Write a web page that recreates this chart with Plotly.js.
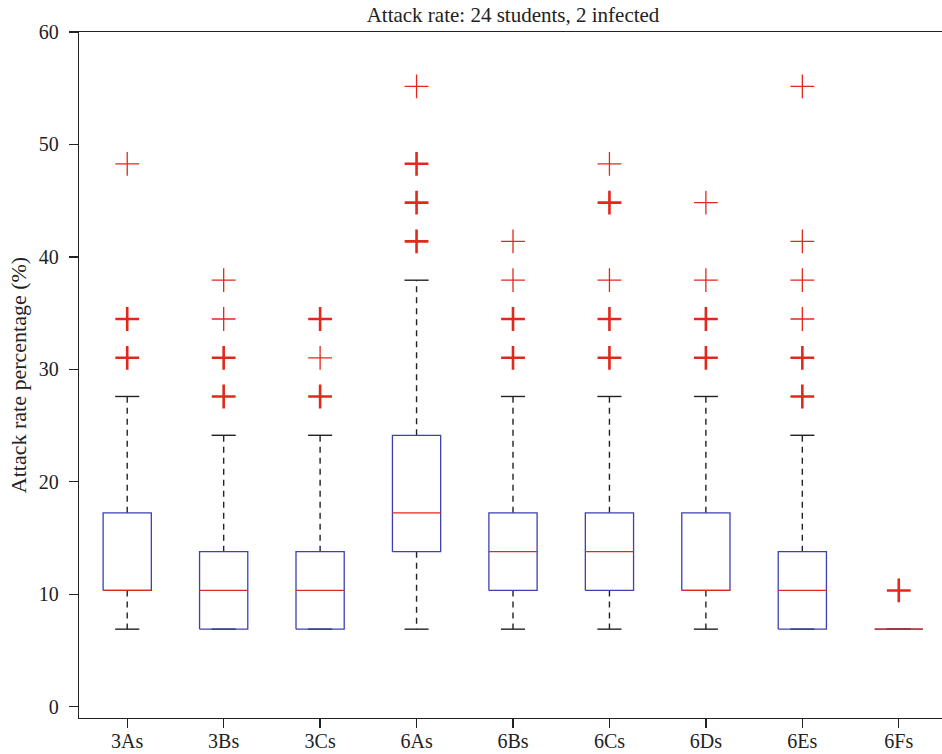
<!DOCTYPE html>
<html>
<head>
<meta charset="utf-8">
<script src="https://cdn.plot.ly/plotly-3.0.1.min.js"></script>
<style>
html,body{margin:0;padding:0;overflow:hidden;background:#fff;}
#chart{width:960px;height:754px;}
</style>
</head>
<body>
<div id="chart"></div>
<script>
// ---- data ----
const categories = ["3As","3Bs","3Cs","6As","6Bs","6Cs","6Ds","6Es","6Fs"];
const lowerWhisker = [6.90, 6.90, 6.90, 6.90, 6.90, 6.90, 6.90, 6.90, 6.90];
const q1Values     = [10.34, 6.90, 6.90, 13.79, 10.34, 10.34, 10.34, 6.90, 6.90];
const medianValues = [10.34, 10.34, 10.34, 17.24, 13.79, 13.79, 10.34, 10.34, 6.90];
const q3Values     = [17.24, 13.79, 13.79, 24.14, 17.24, 17.24, 17.24, 13.79, 6.90];
const upperWhisker = [27.59, 24.14, 24.14, 37.93, 27.59, 27.59, 27.59, 24.14, 6.90];
// outliers: group index, value, overlap count
const outlierGroup = [0,0,0, 1,1,1,1, 2,2,2, 3,3,3,3, 4,4,4,4, 5,5,5,5,5, 6,6,6,6, 7,7,7,7,7,7, 8];
const outlierValue = [31.03,34.48,48.28, 27.59,31.03,34.48,37.93, 27.59,31.03,34.48, 41.38,44.83,48.28,55.17,
                      31.03,34.48,37.93,41.38, 31.03,34.48,37.93,44.83,48.28, 31.03,34.48,37.93,44.83,
                      27.59,31.03,34.48,37.93,41.38,55.17, 10.34];
const outlierCount = [2,2,1, 2,2,1,1, 2,1,2, 2,2,2,1, 2,2,1,1, 2,2,1,2,1, 2,2,1,1, 2,2,1,1,1,1, 2];
const yTicks = [0,10,20,30,40,50,60];

// ---- build traces ----
const pos = categories.map((c,i)=>i+1);
const bw = 0.25, cw = 0.125;
const boxX=[], boxY=[], wX=[], wY=[], capX=[], capY=[], medX=[], medY=[];
pos.forEach((p,i)=>{
  boxX.push(p-bw,p+bw,p+bw,p-bw,p-bw,null);
  boxY.push(q1Values[i],q1Values[i],q3Values[i],q3Values[i],q1Values[i],null);
  wX.push(p,p,null,p,p,null);
  wY.push(q3Values[i],upperWhisker[i],null,q1Values[i],lowerWhisker[i],null);
  capX.push(p-cw,p+cw,null,p-cw,p+cw,null);
  capY.push(upperWhisker[i],upperWhisker[i],null,lowerWhisker[i],lowerWhisker[i],null);
  medX.push(p-bw,p+bw,null);
  medY.push(medianValues[i],medianValues[i],null);
});
const thinX=[],thinY=[],boldX=[],boldY=[];
outlierValue.forEach((v,j)=>{
  const x = pos[outlierGroup[j]];
  if(outlierCount[j]>1){boldX.push(x);boldY.push(v);} else {thinX.push(x);thinY.push(v);}
});

const red = 'rgb(226,40,28)';
const traces = [
  {x:wX,y:wY,mode:'lines',line:{color:'#222',width:1.4,dash:'6px,5px'},hoverinfo:'skip'},
  {x:capX,y:capY,mode:'lines',line:{color:'#222',width:1.4},hoverinfo:'skip'},
  {x:boxX,y:boxY,mode:'lines',line:{color:'rgb(60,64,180)',width:1.3},hoverinfo:'skip'},
  {x:medX,y:medY,mode:'lines',line:{color:red,width:1.3},hoverinfo:'skip'},
  {x:thinX,y:thinY,mode:'markers',marker:{symbol:'cross-thin',size:17,color:red,line:{color:red,width:1.3}}},
  {x:boldX,y:boldY,mode:'markers',marker:{symbol:'cross-thin',size:17,color:red,line:{color:red,width:2.6}}}
];

const fam = '"Liberation Serif", "Times New Roman", serif';
const layout = {
  width:960, height:754,
  margin:{l:79, r:13, t:32, b:36},
  paper_bgcolor:'#fff', plot_bgcolor:'#fff',
  showlegend:false,
  font:{family:fam, size:20, color:'#222'},
  title:{text:'Attack rate: 24 students, 2 infected', font:{family:fam,size:21,color:'#222'},
         xref:'paper', x:0.5, xanchor:'center', yref:'container', y:1-15/754, yanchor:'middle'},
  xaxis:{range:[0.5,9.5], tickvals:pos, ticktext:categories, ticks:'outside', ticklen:9, tickwidth:1.3,
         tickcolor:'#222', showline:true, linecolor:'#222', linewidth:1.3, mirror:true,
         showgrid:false, zeroline:false, fixedrange:true, ticklabelstandoff:-4,
         tickfont:{family:fam,size:20,color:'#222'}},
  yaxis:{range:[-1,60], tickvals:yTicks, ticks:'outside', ticklen:9, tickwidth:1.3, tickcolor:'#222',
         showline:true, linecolor:'#222', linewidth:1.3, mirror:false, showgrid:false, zeroline:false,
         ticklabelstandoff:6, tickfont:{family:fam,size:20,color:'#222'},
         title:{text:'Attack rate percentage (%)', font:{family:fam,size:22,color:'#222'}, standoff:6}}
};
Plotly.newPlot('chart', traces, layout, {staticPlot:true});
</script>
</body>
</html>
